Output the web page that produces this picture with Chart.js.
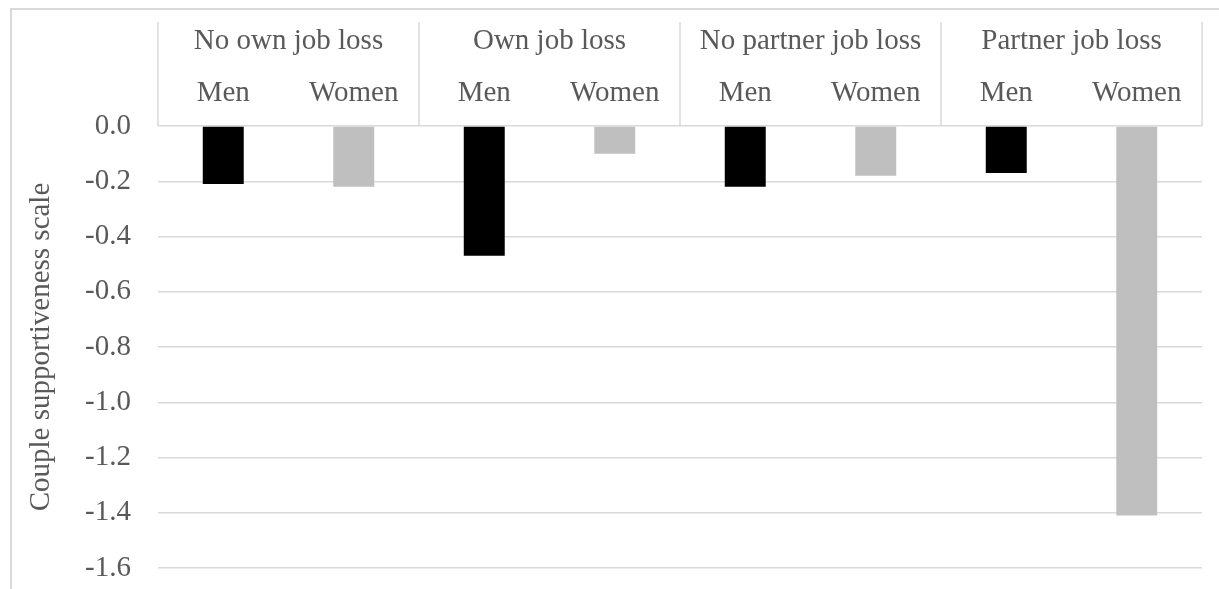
<!DOCTYPE html>
<html>
<head>
<meta charset="utf-8">
<title>Couple supportiveness by job loss</title>
<script src="https://cdn.jsdelivr.net/npm/chart.js@4.4.1/dist/chart.umd.min.js"></script>
<style>
  html, body { margin: 0; padding: 0; background: #fff; overflow: hidden; }
  /* light frame around the figure, open to the right and bottom */
  #frame { position: absolute; left: 10px; top: 8px; width: 1400px; height: 800px; border: 2px solid #d9d9d9; box-sizing: border-box; }
  #wrap { position: absolute; left: 0; top: 0; width: 1219px; height: 589px; }
</style>
</head>
<body>
<div id="frame"></div>
<div id="wrap"><canvas id="supportChart"></canvas></div>
<script>
// --- data ---
const groupLabels = ['No own job loss', 'Own job loss', 'No partner job loss', 'Partner job loss'];
const sexLabels = ['Men', 'Women'];
const menValues = [-0.21, -0.47, -0.22, -0.17];
const womenValues = [-0.22, -0.10, -0.18, -1.41];
const yMin = -1.6;
const yMax = 0;
const yStep = 0.2;
const yTitle = 'Couple supportiveness scale';

// one bar per sex inside each group
const barLabels = groupLabels.flatMap(() => sexLabels);
const barValues = groupLabels.flatMap((_, i) => [menValues[i], womenValues[i]]);
const barColors = groupLabels.flatMap(() => ['#000000', '#bfbfbf']);

const TEXT = '#595959';
const GRID = '#d9d9d9';
const FONT = { family: "'Liberation Serif', 'Times New Roman', serif", size: 29 };

// vertical dividers between the groups in the header above the plot
const groupDividers = {
    id: 'groupDividers',
    afterDraw(chart) {
        const x2 = chart.scales.x2;
        const { ctx, chartArea } = chart;
        const step = x2.getPixelForValue(1) - x2.getPixelForValue(0);
        const start = x2.getPixelForValue(0) - step / 2;
        ctx.save();
        ctx.strokeStyle = GRID;
        ctx.lineWidth = 1.5;
        ctx.beginPath();
        for (let i = 0; i <= groupLabels.length; i++) {
            const px = start + i * step;
            ctx.moveTo(px, x2.top);
            ctx.lineTo(px, chartArea.top);
        }
        ctx.stroke();
        ctx.restore();
    }
};

new Chart(document.getElementById('supportChart'), {
    type: 'bar',
    data: {
        labels: barLabels,
        datasets: [{
            data: barValues,
            backgroundColor: barColors,
            borderWidth: 0,
            barPercentage: 0.314,
            categoryPercentage: 1
        }]
    },
    options: {
        responsive: true,
        maintainAspectRatio: false,
        animation: false,
        layout: { padding: { top: 22, right: 17, bottom: 21, left: 0 } },
        plugins: {
            legend: { display: false },
            tooltip: { enabled: false }
        },
        scales: {
            // Men / Women row, right above the plot
            x: {
                position: 'top',
                weight: 0,
                offset: true,
                grid: { display: false, drawTicks: false },
                border: { display: false },
                ticks: { color: TEXT, font: FONT, padding: 15.6, maxRotation: 0 }
            },
            // group names on top
            x2: {
                type: 'category',
                position: 'top',
                weight: 1,
                labels: groupLabels,
                offset: true,
                grid: { display: false, drawTicks: false },
                border: { display: false },
                ticks: { color: TEXT, font: FONT, padding: 1.6, maxRotation: 0 }
            },
            y: {
                min: yMin,
                max: yMax,
                border: { display: false },
                // invisible tick marks keep the labels clear of the plot
                grid: { color: GRID, lineWidth: 1.5, drawTicks: true, tickLength: 24, tickColor: 'rgba(0,0,0,0)' },
                ticks: {
                    stepSize: yStep,
                    color: TEXT,
                    font: FONT,
                    padding: 3,
                    callback: v => (Math.abs(v) < 1e-9 ? 0 : v).toFixed(1)
                },
                title: {
                    display: true,
                    text: yTitle,
                    color: TEXT,
                    font: FONT,
                    padding: { top: 23.5, bottom: 23.8 }
                }
            }
        }
    },
    plugins: [groupDividers]
});
</script>
</body>
</html>
